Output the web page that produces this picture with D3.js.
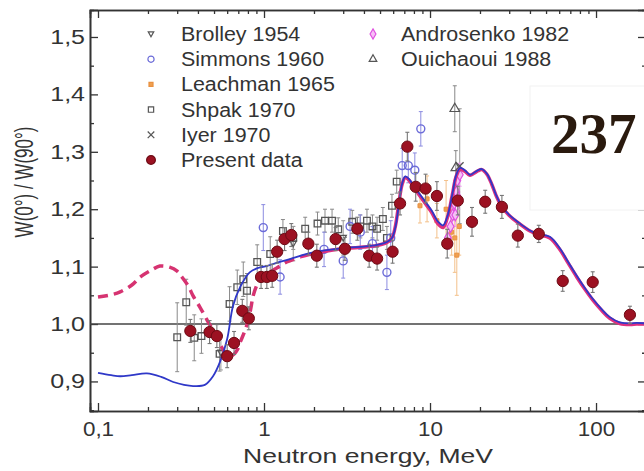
<!DOCTYPE html>
<html><head><meta charset="utf-8">
<script src="https://cdn.jsdelivr.net/npm/d3@7"></script>
<style>html,body{margin:0;padding:0;background:#fff;}svg{display:block;}</style>
</head><body>
<script>
// ---- data ----
const xTickVals = [0.1, 1, 10, 100];
const xTickLabels = ["0,1", "1", "10", "100"];
const yTickVals = [0.9, 1.0, 1.1, 1.2, 1.3, 1.4, 1.5];
const yTickLabels = ["0,9", "1,0", "1,1", "1,2", "1,3", "1,4", "1,5"];

const presentE = [0.36,0.47,0.52,0.60,0.66,0.74,0.81,0.96,1.04,1.12,1.2,1.33,1.46,1.85,2.08,2.7,3.07,3.65,4.3,4.8,5.95,6.6,7.3,8.2,9.4,11.0,12.7,14.7,17.9,21.5,27.1,33.8,45.2,63,95.5,160];
const presentW = [0.988,0.986,0.979,0.944,0.967,1.023,1.010,1.082,1.082,1.084,1.126,1.148,1.155,1.140,1.119,1.148,1.131,1.166,1.119,1.114,1.126,1.210,1.309,1.239,1.236,1.223,1.140,1.215,1.178,1.213,1.204,1.154,1.157,1.075,1.073,1.016];
const presentErr = [0.02,0.02,0.02,0.02,0.02,0.02,0.02,0.02,0.02,0.02,0.02,0.02,0.02,0.02,0.02,0.02,0.02,0.02,0.02,0.02,0.02,0.02,0.025,0.025,0.025,0.025,0.025,0.025,0.025,0.02,0.02,0.02,0.015,0.018,0.018,0.015];

const shpakE = [0.30,0.34,0.38,0.42,0.54,0.62,0.69,0.75,0.79,0.91,1.09,1.30,1.5,1.77,2.1,2.33,2.57,2.8,3.4,3.8,4.17,4.5,4.8,5.2,5.5,5.9,6.3];
const shpakW = [0.977,1.038,0.976,0.979,0.948,1.035,1.064,1.078,1.058,1.108,1.122,1.162,1.150,1.166,1.175,1.180,1.180,1.165,1.178,1.170,1.180,1.170,1.166,1.183,1.150,1.206,1.248];
const shpakErr = [0.06,0.04,0.04,0.03,0.03,0.03,0.03,0.03,0.03,0.03,0.03,0.02,0.02,0.02,0.02,0.02,0.02,0.02,0.02,0.02,0.02,0.02,0.02,0.02,0.02,0.02,0.02];

const simmonsE = [0.99,1.25,2.3,3.0,3.3,3.8,4.5,5.5,5.8,6.8,7.4,8.1,8.8];
const simmonsW = [1.168,1.082,1.130,1.110,1.170,1.160,1.140,1.090,1.150,1.276,1.276,1.268,1.340];
const simmonsErr = [0.04,0.03,0.03,0.03,0.03,0.03,0.03,0.03,0.03,0.03,0.03,0.03,0.03];

const leachmanE = [8.7,9.6,11.0,12.5,13.5,14.1,14.5,15.0];
const leachmanW = [1.206,1.218,1.180,1.200,1.160,1.150,1.120,1.170];
const leachmanErr = [0.03,0.04,0.03,0.05,0.04,0.06,0.07,0.05];

const androsenkoE = [12.8,13.3,13.7,14.0,14.2,14.4,14.6,14.8,15.1];
const androsenkoW = [1.150,1.170,1.190,1.210,1.190,1.230,1.250,1.220,1.260];
const androsenkoErr = [0.02,0.02,0.02,0.02,0.02,0.02,0.02,0.02,0.02];

const brolleyE = [0.55,1.5,3.0];
const brolleyW = [0.950,1.140,1.150];
const brolleyErr = [0.03,0.03,0.03];

const iyerE = [15.1];
const iyerW = [1.275];
const iyerErr = [0.10];

const ouichaouiE = [14.1,14.3];
const ouichaouiW = [1.375,1.272];
const ouichaouiErr = [0.04,0.03];

const blueE = [0.1,0.12,0.136,0.16,0.197,0.24,0.284,0.33,0.374,0.44,0.493,0.543,0.60,0.65,0.72,0.82,0.93,1.04,1.2,1.43,1.7,2.09,2.6,3.2,4.0,4.8,5.5,5.9,6.2,6.5,6.8,7.1,7.5,8.0,9.0,10.2,11.2,12.0,12.8,13.6,14.4,15.2,16.2,17.4,18.5,19.5,20.5,22,23.5,25,27,30,34.8,40,44.6,52.7,60.8,68,76.5,86,95.5,108,121,139,160,176,200];
const blueW = [0.915,0.911,0.909,0.911,0.914,0.908,0.899,0.894,0.892,0.894,0.909,0.934,0.974,1.031,1.065,1.090,1.098,1.101,1.107,1.113,1.120,1.126,1.130,1.133,1.135,1.138,1.143,1.150,1.170,1.210,1.245,1.257,1.252,1.240,1.220,1.198,1.178,1.172,1.190,1.225,1.260,1.272,1.268,1.260,1.264,1.268,1.270,1.262,1.245,1.225,1.206,1.190,1.175,1.163,1.157,1.152,1.131,1.108,1.084,1.062,1.044,1.026,1.012,1.003,1.001,1.002,1.001];

const magE = [1.65,2.09,2.6,3.2,4.0,4.8,5.5,5.9,6.2,6.5,6.8,7.1,7.5,8.0,9.0,10.2,11.2,12.0,12.8,13.6,14.4,15.2,16.2,17.4,18.5,19.5,20.5,22,23.5,25,27,30,34.8,40,44.6,52.7,60.8,68,76.5,86,95.5,108,121,139,160,176,200];
const magW = [1.117,1.124,1.129,1.132,1.134,1.137,1.142,1.150,1.172,1.212,1.244,1.255,1.250,1.238,1.217,1.195,1.174,1.168,1.188,1.224,1.258,1.270,1.266,1.259,1.263,1.267,1.269,1.261,1.244,1.224,1.205,1.189,1.174,1.162,1.156,1.150,1.129,1.106,1.082,1.060,1.042,1.024,1.010,1.001,0.999,1.000,1.000];

const dashE = [0.1,0.12,0.136,0.16,0.18,0.21,0.236,0.27,0.3,0.32,0.35,0.374,0.41,0.45,0.49,0.52,0.56,0.60,0.65,0.69,0.72,0.76,0.79,0.83,0.86,0.9,0.95,1.02,1.09,1.2,1.37,1.65];
const dashW = [1.047,1.051,1.056,1.068,1.082,1.094,1.101,1.099,1.092,1.082,1.066,1.049,1.030,1.009,0.990,0.974,0.958,0.946,0.946,0.955,0.969,0.985,0.999,1.025,1.049,1.066,1.079,1.087,1.091,1.098,1.108,1.117];

const legendNames1 = ["Brolley 1954","Simmons 1960","Leachman 1965","Shpak 1970","Iyer 1970","Present data"];
const legendNames2 = ["Androsenko 1982","Ouichaoui 1988"];

// ---- drawing ----
const W = 644, H = 471;
const FONT = "'Liberation Sans', Arial, sans-serif";
const svg = d3.select("body").append("svg").attr("width", W).attr("height", H)
  .style("font-family", FONT);

const x = d3.scaleLog().domain([0.0895, 200]).range([90, 646]);
const y = d3.scaleLinear().domain([0.8485, 1.547]).range([411, 10]);

const axisCol = "#333";
const zip = (E, V, Er) => E.map((e, i) => ({e, v: V[i], err: Er ? Er[i] : 0}));
// horizontally widen texts (reference glyphs are stretched)
function stretch(sel, f) {
  sel.each(function() {
    const L = this.getComputedTextLength();
    d3.select(this).attr("textLength", L * f).attr("lengthAdjust", "spacingAndGlyphs");
  });
}

// minor ticks
const xMinor = [];
[0.1, 1, 10, 100].forEach(d => { for (let k = 2; k <= 9; k++) xMinor.push(d * k); });
xMinor.push(200);
const yMinor = [0.85,0.95,1.05,1.15,1.25,1.35,1.45];

const gAx = svg.append("g");
const gxb = gAx.append("g").attr("transform", "translate(0,411)")
  .call(d3.axisBottom(x).tickValues(xTickVals).tickFormat((d,i)=>xTickLabels[i]).tickSize(-8).tickPadding(11));
gAx.append("g").attr("transform", "translate(0,411)")
  .call(d3.axisBottom(x).tickValues(xMinor).tickFormat("").tickSize(-4));
gAx.append("g").attr("transform", "translate(0,10)")
  .call(d3.axisTop(x).tickValues(xTickVals).tickFormat("").tickSize(-8));
gAx.append("g").attr("transform", "translate(0,10)")
  .call(d3.axisTop(x).tickValues(xMinor).tickFormat("").tickSize(-4));
const gyl = gAx.append("g").attr("transform", "translate(90,0)")
  .call(d3.axisLeft(y).tickValues(yTickVals).tickFormat((d,i)=>yTickLabels[i]).tickSize(-8).tickPadding(5));
gAx.append("g").attr("transform", "translate(90,0)")
  .call(d3.axisLeft(y).tickValues(yMinor).tickFormat("").tickSize(-4));
gAx.append("g").attr("transform", "translate(646,0)")
  .call(d3.axisRight(y).tickValues(yTickVals).tickFormat("").tickSize(-8));
gAx.append("g").attr("transform", "translate(646,0)")
  .call(d3.axisRight(y).tickValues(yMinor).tickFormat("").tickSize(-4));

gAx.selectAll(".domain").attr("stroke", axisCol).attr("stroke-width", 1.6);
gAx.selectAll(".tick line").attr("stroke", axisCol).attr("stroke-width", 1.3);
gAx.selectAll(".tick text").attr("fill", "#333").style("font-family", FONT);
gxb.selectAll(".tick text").style("font-size", "20px");
gyl.selectAll(".tick text").style("font-size", "20px");
stretch(gxb.selectAll(".tick text"), 1.12);
stretch(gyl.selectAll(".tick text"), 1.25);

// reference line at 1.0
svg.append("line").attr("x1", x(0.0895)).attr("x2", x(200)).attr("y1", y(1.0)).attr("y2", y(1.0))
  .attr("stroke", "#444").attr("stroke-width", 1.6);

// error bars + markers
function errBars(data, col, w) {
  const g = svg.append("g").attr("stroke", col).attr("stroke-width", w || 1);
  data.forEach(d => {
    g.append("line").attr("x1", x(d.e)).attr("x2", x(d.e)).attr("y1", y(d.v - d.err)).attr("y2", y(d.v + d.err));
    g.append("line").attr("x1", x(d.e)-2).attr("x2", x(d.e)+2).attr("y1", y(d.v - d.err)).attr("y2", y(d.v - d.err));
    g.append("line").attr("x1", x(d.e)-2).attr("x2", x(d.e)+2).attr("y1", y(d.v + d.err)).attr("y2", y(d.v + d.err));
  });
}
const sym = (type, size) => d3.symbol().type(type).size(size);
const triDown = { draw(ctx, size) { const s = Math.sqrt(size); ctx.moveTo(-s/2, -s*0.4); ctx.lineTo(s/2, -s*0.4); ctx.lineTo(0, s*0.5); ctx.closePath(); } };

function markers(data, type, size, fill, stroke, sw) {
  svg.append("g").selectAll("path").data(data).join("path")
    .attr("transform", d => `translate(${x(d.e)},${y(d.v)})`)
    .attr("d", sym(type, size)).attr("fill", fill).attr("stroke", stroke).attr("stroke-width", sw);
}

const shpak = zip(shpakE, shpakW, shpakErr);
const simmons = zip(simmonsE, simmonsW, simmonsErr);
const leach = zip(leachmanE, leachmanW, leachmanErr);
const andro = zip(androsenkoE, androsenkoW, androsenkoErr);
const brol = zip(brolleyE, brolleyW, brolleyErr);
const iyer = zip(iyerE, iyerW, iyerErr);
const ouich = zip(ouichaouiE, ouichaouiW, ouichaouiErr);
const present = zip(presentE, presentW, presentErr);

errBars(leach, "#f3c08a", 1);
errBars(iyer, "#999", 1);
errBars(shpak, "#8a8a8a", 1);
errBars(simmons, "#8c8ce0", 1);
errBars(andro, "#f0a0f0", 1);
errBars(brol, "#999", 1);
errBars(ouich, "#888", 1);

markers(leach, d3.symbolSquare, 16, "#f0a050", "#e89040", 1);
markers(shpak, d3.symbolSquare, 44, "none", "#555", 1.3);
markers(simmons, d3.symbolCircle, 50, "none", "#6b6bd8", 1.4);
markers(andro, d3.symbolDiamond, 40, "#f6c0f6", "#e050e0", 1.2);
markers(brol, triDown, 40, "none", "#555", 1.2);
markers(iyer, d3.symbolX, 40, "none", "#555", 1.3);
markers(ouich, d3.symbolTriangle, 40, "none", "#555", 1.2);

// curves
const line = d3.line().x(d => x(d.e)).y(d => y(d.v)).curve(d3.curveCatmullRom.alpha(0.5));
svg.append("path").attr("d", line(zip(dashE, dashW))).attr("fill", "none")
  .attr("stroke", "#d63371").attr("stroke-width", 3.5).attr("stroke-dasharray", "10,6");
svg.append("path").attr("d", line(zip(magE, magW))).attr("fill", "none")
  .attr("stroke", "#e0307f").attr("stroke-width", 3.5);
svg.append("path").attr("d", line(zip(blueE, blueW))).attr("fill", "none")
  .attr("stroke", "#2f38c8").attr("stroke-width", 1.8);

// present data on top
errBars(present, "#777", 1.1);
markers(present, d3.symbolCircle, 100, "#9c1122", "#6d0a14", 1);

// legend
const lg = svg.append("g").style("font-size", "19.5px").attr("fill", "#333");
const legSyms = [
  {t: triDown, f: "none", s: "#555", z: 30},
  {t: d3.symbolCircle, f: "none", s: "#6b6bd8", z: 30},
  {t: d3.symbolSquare, f: "#f0a050", s: "#e89040", z: 16},
  {t: d3.symbolSquare, f: "none", s: "#555", z: 28},
  {t: d3.symbolX, f: "none", s: "#555", z: 30},
  {t: d3.symbolCircle, f: "#9c1122", s: "#6d0a14", z: 60}
];
legendNames1.forEach((n, i) => {
  const yy = 34 + i * 25.2;
  lg.append("path").attr("transform", `translate(151,${yy})`).attr("d", sym(legSyms[i].t, legSyms[i].z))
    .attr("fill", legSyms[i].f).attr("stroke", legSyms[i].s).attr("stroke-width", 1.2);
  lg.append("text").attr("x", 181).attr("y", yy + 7).text(n);
});
const legSyms2 = [
  {t: d3.symbolDiamond, f: "#f6c0f6", s: "#e050e0", z: 30},
  {t: d3.symbolTriangle, f: "none", s: "#555", z: 25}
];
legendNames2.forEach((n, i) => {
  const yy = 34 + i * 25.2;
  lg.append("path").attr("transform", `translate(373,${yy})`).attr("d", sym(legSyms2[i].t, legSyms2[i].z))
    .attr("fill", legSyms2[i].f).attr("stroke", legSyms2[i].s).attr("stroke-width", 1.2);
  lg.append("text").attr("x", 401).attr("y", yy + 7).text(n);
});
stretch(lg.selectAll("text"), 1.1);

// axis titles
const xt = svg.append("text").attr("x", 368).attr("y", 463).attr("text-anchor", "middle")
  .style("font-size", "21px").attr("fill", "#333").text("Neutron energy, MeV");
xt.attr("textLength", 250).attr("lengthAdjust", "spacingAndGlyphs");
svg.append("text").attr("transform", "translate(33,182) rotate(-90) scale(1,1.55)").attr("text-anchor", "middle")
  .style("font-size", "17px").attr("fill", "#333").text("W(0°) / W(90°)");

// overlay box with label
svg.append("rect").attr("x", 530).attr("y", 86).attr("width", 120).attr("height", 124)
  .attr("fill", "#fff").attr("stroke", "#f2f2f2").attr("stroke-width", 1);
svg.append("text").attr("x", 551).attr("y", 153)
  .style("font-family", "'Liberation Serif', 'Times New Roman', serif").style("font-weight", "bold")
  .style("font-size", "57px").attr("fill", "#2a1a0e").text("237");
</script>
</body></html>
